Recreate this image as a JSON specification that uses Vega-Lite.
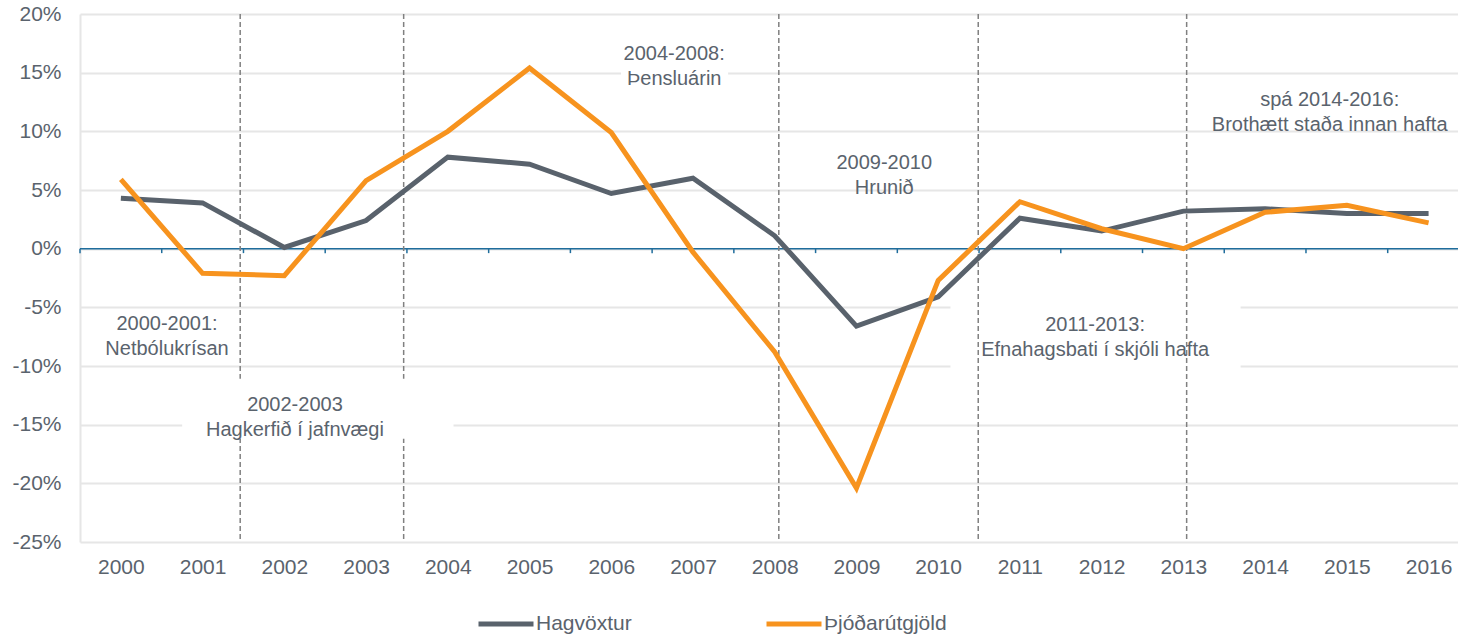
{
  "$schema": "https://vega.github.io/schema/vega-lite/v6.json",
  "autosize": {"type": "none"},
  "padding": {"left": 80, "top": 14, "right": 0, "bottom": 94},
  "width": 1378,
  "height": 528,
  "background": "white",
  "config": {"view": {"stroke": null}},
  "datasets": {
    "series": [
      {"year": 2000, "value": 4.3, "series": "Hagvöxtur"},
      {"year": 2001, "value": 3.9, "series": "Hagvöxtur"},
      {"year": 2002, "value": 0.1, "series": "Hagvöxtur"},
      {"year": 2003, "value": 2.4, "series": "Hagvöxtur"},
      {"year": 2004, "value": 7.8, "series": "Hagvöxtur"},
      {"year": 2005, "value": 7.2, "series": "Hagvöxtur"},
      {"year": 2006, "value": 4.7, "series": "Hagvöxtur"},
      {"year": 2007, "value": 6.0, "series": "Hagvöxtur"},
      {"year": 2008, "value": 1.1, "series": "Hagvöxtur"},
      {"year": 2009, "value": -6.6, "series": "Hagvöxtur"},
      {"year": 2010, "value": -4.1, "series": "Hagvöxtur"},
      {"year": 2011, "value": 2.6, "series": "Hagvöxtur"},
      {"year": 2012, "value": 1.5, "series": "Hagvöxtur"},
      {"year": 2013, "value": 3.2, "series": "Hagvöxtur"},
      {"year": 2014, "value": 3.4, "series": "Hagvöxtur"},
      {"year": 2015, "value": 3.0, "series": "Hagvöxtur"},
      {"year": 2016, "value": 3.0, "series": "Hagvöxtur"},
      {"year": 2000, "value": 5.9, "series": "Þjóðarútgjöld"},
      {"year": 2001, "value": -2.1, "series": "Þjóðarútgjöld"},
      {"year": 2002, "value": -2.3, "series": "Þjóðarútgjöld"},
      {"year": 2003, "value": 5.8, "series": "Þjóðarútgjöld"},
      {"year": 2004, "value": 10.0, "series": "Þjóðarútgjöld"},
      {"year": 2005, "value": 15.4, "series": "Þjóðarútgjöld"},
      {"year": 2006, "value": 9.9, "series": "Þjóðarútgjöld"},
      {"year": 2007, "value": -0.3, "series": "Þjóðarútgjöld"},
      {"year": 2008, "value": -8.8, "series": "Þjóðarútgjöld"},
      {"year": 2009, "value": -20.4, "series": "Þjóðarútgjöld"},
      {"year": 2010, "value": -2.7, "series": "Þjóðarútgjöld"},
      {"year": 2011, "value": 4.0, "series": "Þjóðarútgjöld"},
      {"year": 2012, "value": 1.7, "series": "Þjóðarútgjöld"},
      {"year": 2013, "value": 0.0, "series": "Þjóðarútgjöld"},
      {"year": 2014, "value": 3.1, "series": "Þjóðarútgjöld"},
      {"year": 2015, "value": 3.7, "series": "Þjóðarútgjöld"},
      {"year": 2016, "value": 2.2, "series": "Þjóðarútgjöld"}
    ],
    "notes": [
      {"year": 2000.565, "value": -7.46, "label": "2000-2001:\nNetbólukrísan"},
      {"year": 2002.13, "value": -14.36, "label": "2002-2003\nHagkerfið í jafnvægi"},
      {"year": 2006.77, "value": 15.6, "label": "2004-2008:\nÞensluárin"},
      {"year": 2009.34, "value": 6.26, "label": "2009-2010\nHrunið"},
      {"year": 2011.92, "value": -7.54, "label": "2011-2013:\nEfnahagsbati í skjóli hafta"},
      {"year": 2014.79, "value": 11.63, "label": "spá 2014-2016:\nBrothætt staða innan hafta"}
    ],
    "boxesUnder": [
      {"year": 2010.15, "x2": 2013.7, "value": -4.43, "y2": -10.82},
      {"year": 2006.12, "x2": 2007.43, "value": 17.7, "y2": 13.5}
    ],
    "boxesOver": [
      {"year": 2000.75, "x2": 2004.07, "value": -11.08, "y2": -16.19}
    ],
    "dividers": [
      {"year": 2001.46, "value": 20, "bottom": -25},
      {"year": 2003.46, "value": 20, "bottom": -25},
      {"year": 2008.05, "value": 20, "bottom": -25},
      {"year": 2010.49, "value": 20, "bottom": -25},
      {"year": 2013.04, "value": 20, "bottom": -25}
    ],
    "zero": [{"value": 0}],
    "ticks": [
      {"year": 1999.5, "value": 0, "bottom": -0.38}, {"year": 2000.5, "value": 0, "bottom": -0.38},
      {"year": 2001.5, "value": 0, "bottom": -0.38}, {"year": 2002.5, "value": 0, "bottom": -0.38},
      {"year": 2003.5, "value": 0, "bottom": -0.38}, {"year": 2004.5, "value": 0, "bottom": -0.38},
      {"year": 2005.5, "value": 0, "bottom": -0.38}, {"year": 2006.5, "value": 0, "bottom": -0.38},
      {"year": 2007.5, "value": 0, "bottom": -0.38}, {"year": 2008.5, "value": 0, "bottom": -0.38},
      {"year": 2009.5, "value": 0, "bottom": -0.38}, {"year": 2010.5, "value": 0, "bottom": -0.38},
      {"year": 2011.5, "value": 0, "bottom": -0.38}, {"year": 2012.5, "value": 0, "bottom": -0.38},
      {"year": 2013.5, "value": 0, "bottom": -0.38}, {"year": 2014.5, "value": 0, "bottom": -0.38},
      {"year": 2015.5, "value": 0, "bottom": -0.38}
    ]
  },
  "layer": [
    {
      "data": {"name": "boxesUnder"},
      "mark": {"type": "rect", "fill": "white"},
      "encoding": {
        "x": {
          "field": "year", "type": "quantitative",
          "scale": {"domain": [1999.5, 2016.36], "nice": false, "zero": false},
          "axis": {
            "orient": "bottom", "values": [2000, 2001, 2002, 2003, 2004, 2005, 2006, 2007, 2008, 2009, 2010, 2011, 2012, 2013, 2014, 2015, 2016],
            "format": "d", "grid": false, "domain": false, "ticks": false,
            "labelPadding": 14, "labelFontSize": 21, "labelFont": "Liberation Sans",
            "labelColor": "#5a636d", "title": null, "labelFlush": false, "labelOverlap": false
          }
        },
        "x2": {"field": "x2"},
        "y": {
          "field": "value", "type": "quantitative",
          "scale": {"domain": [-25, 20], "nice": false, "zero": false},
          "axis": {
            "orient": "left", "values": [-25, -20, -15, -10, -5, 0, 5, 10, 15, 20],
            "labelExpr": "datum.value + '%'", "grid": true, "gridColor": "#e6e6e6", "gridWidth": 2,
            "domain": true, "domainColor": "#e6e6e6", "domainWidth": 2, "ticks": false,
            "labelPadding": 19, "labelFontSize": 21, "labelFont": "Liberation Sans",
            "labelColor": "#5a636d", "title": null
          }
        },
        "y2": {"field": "y2"}
      }
    },
    {
      "data": {"name": "zero"},
      "mark": {"type": "rule", "stroke": "#1f6d9c", "strokeWidth": 1.5},
      "encoding": {"y": {"field": "value", "type": "quantitative"}}
    },
    {
      "data": {"name": "ticks"},
      "mark": {"type": "rule", "stroke": "#1f6d9c", "strokeWidth": 1.5},
      "encoding": {
        "x": {"field": "year", "type": "quantitative"},
        "y": {"field": "value", "type": "quantitative"},
        "y2": {"field": "bottom"}
      }
    },
    {
      "data": {"name": "dividers"},
      "mark": {"type": "rule", "stroke": "#808080", "strokeWidth": 1.5, "strokeDash": [5, 3]},
      "encoding": {
        "x": {"field": "year", "type": "quantitative"},
        "y": {"field": "value", "type": "quantitative"},
        "y2": {"field": "bottom"}
      }
    },
    {
      "data": {"name": "boxesOver"},
      "mark": {"type": "rect", "fill": "white"},
      "encoding": {
        "x": {"field": "year", "type": "quantitative"},
        "x2": {"field": "x2"},
        "y": {"field": "value", "type": "quantitative"},
        "y2": {"field": "y2"}
      }
    },
    {
      "data": {"name": "series"},
      "mark": {"type": "line", "strokeWidth": 5},
      "encoding": {
        "x": {"field": "year", "type": "quantitative"},
        "y": {"field": "value", "type": "quantitative"},
        "color": {
          "field": "series", "type": "nominal",
          "scale": {"domain": ["Hagvöxtur", "Þjóðarútgjöld"], "range": ["#59626c", "#f7931e"]},
          "legend": {
            "orient": "none", "legendX": 396, "legendY": 580, "direction": "horizontal",
            "title": null, "symbolType": "stroke", "symbolSize": 3025, "symbolStrokeWidth": 5,
            "labelFontSize": 21, "labelFont": "Liberation Sans", "labelColor": "#5a636d",
            "labelOffset": 0, "columnPadding": 124
          }
        }
      }
    },
    {
      "data": {"name": "notes"},
      "mark": {"type": "text", "lineBreak": "\n", "fontSize": 20, "font": "Liberation Sans",
               "color": "#5a636d", "align": "center", "baseline": "middle", "lineHeight": 25, "dy": -12},
      "encoding": {
        "x": {"field": "year", "type": "quantitative"},
        "y": {"field": "value", "type": "quantitative"},
        "text": {"field": "label"}
      }
    }
  ]
}
